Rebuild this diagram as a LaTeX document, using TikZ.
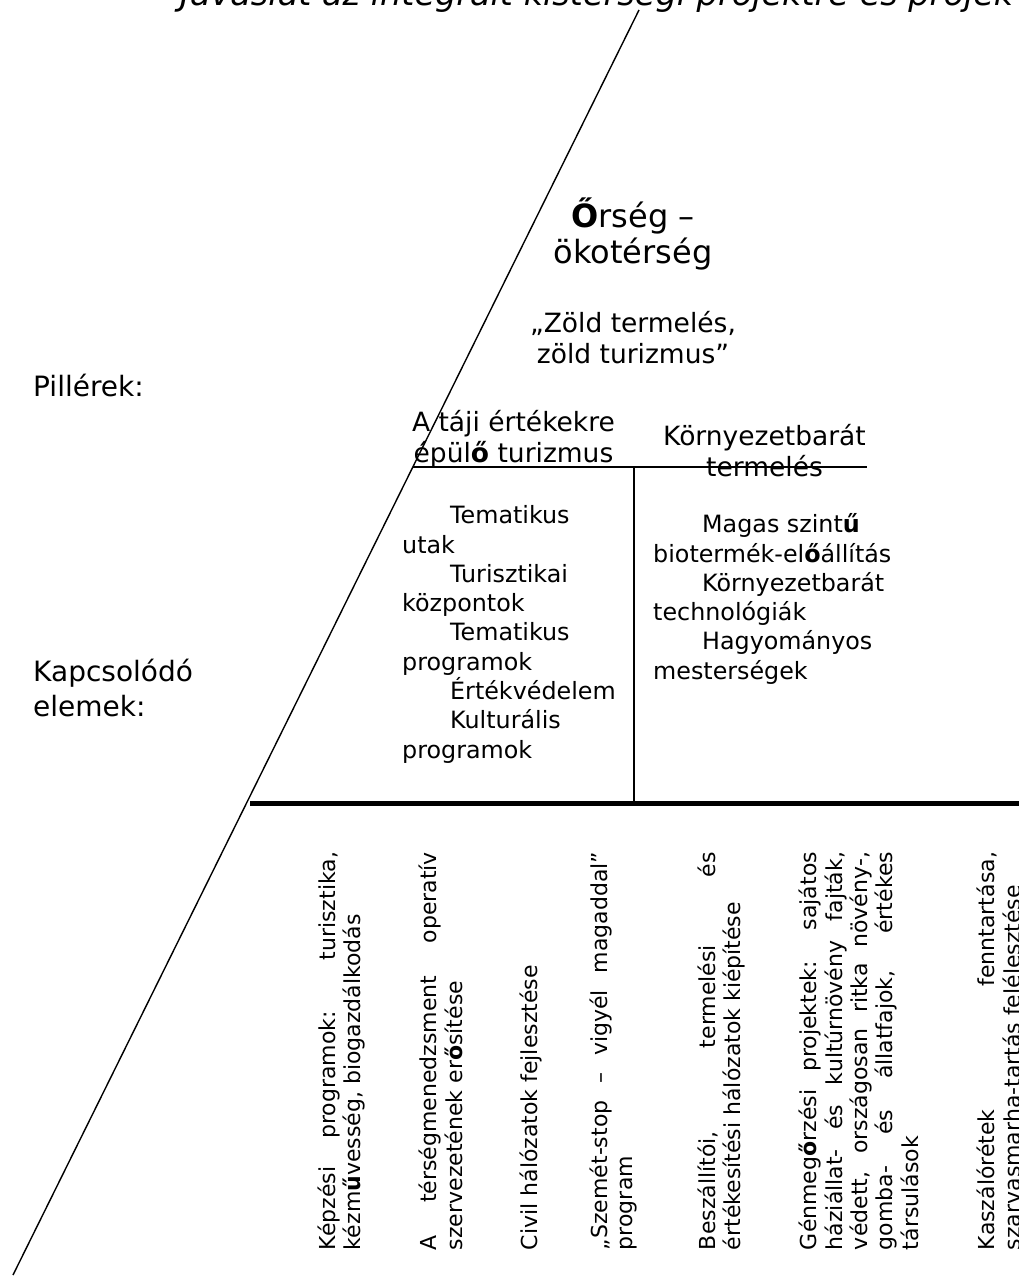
\documentclass[tikz,border=0pt]{standalone}
\usepackage{fontspec}
\setmainfont{DejaVu Sans}
\newcommand\boo{\textbf{ő}}
\newcommand\buu{\textbf{ű}}
\newcommand\rotf{\fontsize{22}{25.3}\selectfont\hyphenpenalty=10000\exhyphenpenalty=10000\tolerance=10000\emergencystretch=20pt}
\tikzset{
  thinline/.style={line width=1.4pt, black},
  thickline/.style={line width=5pt, black},
  sidelbl/.style={inner sep=0, font=\fontsize{28}{35}\selectfont, align=left},
  headtxt/.style={inner sep=0, font=\fontsize{32}{36}\selectfont, align=center},
  pillar/.style={inner sep=0, font=\fontsize{26.5}{31}\selectfont, align=center},
  listtxt/.style={inner sep=0, font=\fontsize{23.8}{29.3}\selectfont, align=left, anchor=west},
  rottxt/.style={rotate=90, inner sep=0, text width=398pt, align=justify, font=\rotf},
}
\begin{document}
\begin{tikzpicture}[x=1pt, y=-1pt]
\useasboundingbox (0,0) rectangle (1019,1276);
% title (cut at top)
\node[anchor=base west, inner sep=0, font=\fontsize{33.5}{40}\selectfont\itshape] (title) at (180,6)
  {Javaslat az integrált kistérségi projektre és projek};
% lines
\coordinate (dtop) at (639,10);
\coordinate (dbot) at (13,1275);
\coordinate (hL) at (413,467);
\coordinate (hR) at (867,467);
\coordinate (vT) at (634,467);
\coordinate (vB) at (634,803);
\coordinate (tL) at (250,803);
\coordinate (tR) at (1019,803);
\draw[thinline] (dtop) -- (dbot);
\draw[thinline] (hL) -- (hR);
\draw[thinline] (vT) -- (vB);
\draw[thickline] (tL) -- (tR);
% side labels
\node[sidelbl, anchor=base west] (pill) at (33,396) {Pillérek:};
\node[sidelbl, anchor=west] (kapcs) at (33,688) {Kapcsolódó\\elemek:};
% head
\node[headtxt] (orseg) at (633,234) {\textbf{Ő}rség –\\ökotérség};
\node[pillar] (zold) at (633,337.6) {„Zöld termelés,\\zöld turizmus”};
% pillars
\node[pillar] (tajpill) at (513.5,439) {A táji értékekre\\épül\boo{} turizmus};
\node[pillar] (kornypill) at (764.5,451) {Környezetbarát\\termelés};
% lists
\node[listtxt] (turlist) at (402,634.4) {\hspace*{48pt}Tematikus\\utak\\\hspace*{48pt}Turisztikai\\központok\\\hspace*{48pt}Tematikus\\programok\\\hspace*{48pt}Értékvédelem\\\hspace*{48pt}Kulturális\\programok};
\node[listtxt] (termlist) at (653,599) {\hspace*{49pt}Magas szint\buu\\biotermék-el\boo állítás\\\hspace*{49pt}Környezetbarát\\technológiák\\\hspace*{49pt}Hagyományos\\mesterségek};
% rotated items
\node[rottxt] (r1) at (341.5,1051) {Képzési programok: turisztika,\linebreak kézm\buu vesség, biogazdálkodás};
\node[rottxt] (r2) at (440.9,1051) {A térségmenedzsment operatív\linebreak szervezetének er\boo sítése};
\node[rottxt] (r3) at (530.8,1051) {Civil hálózatok fejlesztése};
\node[rottxt] (r4) at (613.5,1051) {„Szemét-stop – vigyél magaddal”\linebreak program};
\node[rottxt] (r5) at (721.5,1051) {Beszállítói, termelési és\linebreak értékesítési hálózatok kiépítése};
\node[rottxt] (r6) at (858.8,1051) {Génmeg\boo rzési projektek: sajátos\linebreak háziállat- és kultúrnövény fajták,\linebreak védett, országosan ritka növény-,\linebreak gomba- és állatfajok, értékes\linebreak társulások};
\node[rottxt] (r7) at (998.9,1051) {Kaszálórétek fenntartása,\linebreak szarvasmarha-tartás felélesztése};
\end{tikzpicture}
\end{document}
